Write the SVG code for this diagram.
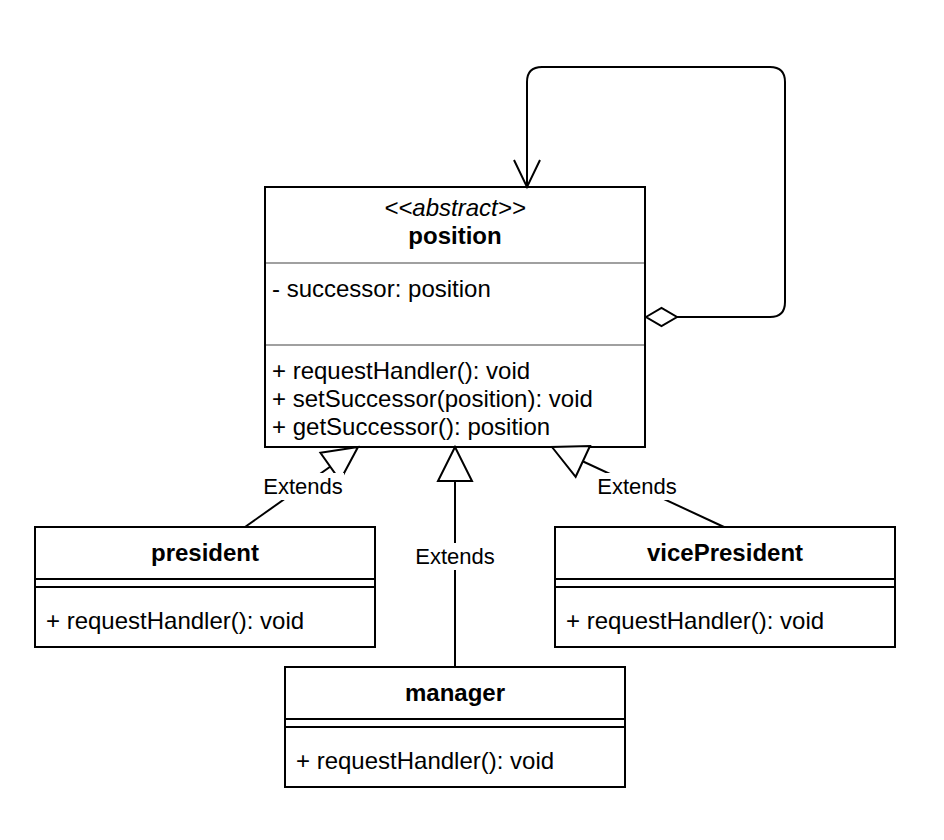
<svg xmlns="http://www.w3.org/2000/svg" width="944" height="840" viewBox="0 0 944 840">
<style>
text{font-family:"Liberation Sans",Arial,Helvetica,sans-serif;font-size:24px;fill:#000}
.c{text-anchor:middle}
.b{font-weight:bold}
.i{font-style:italic}
.lbl{font-size:22px;text-anchor:middle}
.box{fill:#fff;stroke:#000;stroke-width:2}
.sep{stroke:#000;stroke-width:2}
.gsep{stroke:#a0a0a0;stroke-width:2}
.edge{fill:none;stroke:#000;stroke-width:2}
.tri{fill:#fff;stroke:#000;stroke-width:2}
.bg{fill:#fff}
</style>
<defs>
<marker id="gen" markerUnits="userSpaceOnUse" markerWidth="40" markerHeight="40" viewBox="-37 -20 40 40" refX="0" refY="0" orient="auto" overflow="visible">
<path d="M0,0 L-34,-17 L-34,17 Z" fill="#fff" stroke="#000" stroke-width="2"/>
</marker>
</defs>
<rect width="944" height="840" fill="#fff"/>
<g id="position">
<rect class="box" x="265" y="187" width="380" height="260"/>
<text class="c i" x="455" y="216">&lt;&lt;abstract&gt;&gt;</text>
<text class="c b" x="455" y="244">position</text>
<line class="gsep" x1="266" y1="263" x2="644" y2="263"/>
<text x="272" y="297">- successor: position</text>
<line class="gsep" x1="266" y1="345" x2="644" y2="345"/>
<text x="272" y="379">+ requestHandler(): void</text>
<text x="272" y="407">+ setSuccessor(position): void</text>
<text x="272" y="435">+ getSuccessor(): position</text>
</g>
<g id="president">
<rect class="box" x="35" y="527" width="340" height="120"/>
<text class="c b" x="205" y="561">president</text>
<line class="sep" x1="35" y1="579" x2="375" y2="579"/>
<line class="sep" x1="35" y1="587" x2="375" y2="587"/>
<text x="46" y="629">+ requestHandler(): void</text>
</g>
<g id="vicePresident">
<rect class="box" x="555" y="527" width="340" height="120"/>
<text class="c b" x="725" y="561">vicePresident</text>
<line class="sep" x1="555" y1="579" x2="895" y2="579"/>
<line class="sep" x1="555" y1="587" x2="895" y2="587"/>
<text x="566" y="629">+ requestHandler(): void</text>
</g>
<g id="manager">
<rect class="box" x="285" y="667" width="340" height="120"/>
<text class="c b" x="455" y="701">manager</text>
<line class="sep" x1="285" y1="719" x2="625" y2="719"/>
<line class="sep" x1="285" y1="727" x2="625" y2="727"/>
<text x="296" y="769">+ requestHandler(): void</text>
</g>
<g id="connectors">
<path class="edge" d="M245,527 L358,447" marker-end="url(#gen)"/>
<path class="edge" d="M455,667 L455,447" marker-end="url(#gen)"/>
<path class="edge" d="M724,527 L552,447" marker-end="url(#gen)"/>
<path class="edge" d="M677,317 L770,317 Q785,317 785,302 L785,82 Q785,67 770,67 L542,67 Q527,67 527,82 L527,187"/>
<path class="edge" d="M514,160 L527,187 L540,160"/>
<path class="tri" d="M646,317 L661.5,308 L677,317 L661.5,326 Z"/>
<rect class="bg" x="262" y="473" width="82" height="27"/>
<text class="lbl" x="303" y="494">Extends</text>
<rect class="bg" x="415" y="543" width="80" height="27"/>
<text class="lbl" x="455" y="564">Extends</text>
<rect class="bg" x="596" y="473" width="82" height="27"/>
<text class="lbl" x="637" y="494">Extends</text>
</g>
</svg>
